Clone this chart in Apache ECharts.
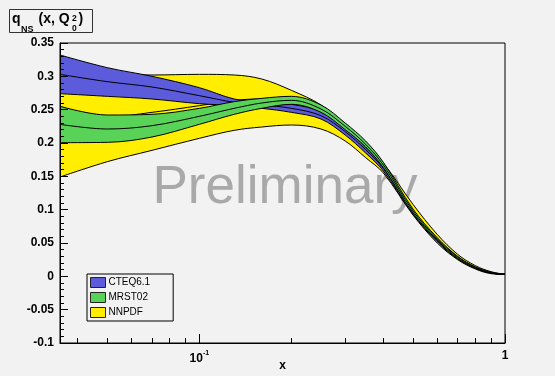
<!DOCTYPE html>
<html><head><meta charset="utf-8">
<script src="https://cdn.jsdelivr.net/npm/echarts@6/dist/echarts.min.js"></script>
<style>html,body{margin:0;padding:0;background:#f2f2f2}#c{width:555px;height:376px}</style>
</head><body><div id="c"></div>
<script>
// ---- data ----
const xValues      = [0.035, 0.05, 0.07, 0.1, 0.13, 0.16, 0.2, 0.25, 0.3, 0.35, 0.4, 0.5, 0.6, 0.7, 0.8, 0.9, 1.0];

const cteqUpper    = [0.332, 0.313, 0.300, 0.283, 0.266, 0.261, 0.258, 0.247, 0.222, 0.194, 0.166, 0.099, 0.057, 0.029, 0.014, 0.006, 0.003];
const cteqCentral  = [0.303, 0.292, 0.284, 0.271, 0.261, 0.257, 0.252, 0.241, 0.217, 0.190, 0.162, 0.096, 0.055, 0.028, 0.013, 0.005, 0.003];
const cteqLower    = [0.274, 0.270, 0.266, 0.259, 0.256, 0.252, 0.246, 0.236, 0.212, 0.185, 0.158, 0.093, 0.052, 0.026, 0.012, 0.005, 0.003];

const mrstUpper    = [0.255, 0.242, 0.243, 0.252, 0.262, 0.267, 0.270, 0.257, 0.230, 0.203, 0.171, 0.101, 0.058, 0.030, 0.014, 0.006, 0.003];
const mrstCentral  = [0.228, 0.221, 0.226, 0.240, 0.252, 0.260, 0.264, 0.251, 0.225, 0.198, 0.167, 0.098, 0.056, 0.029, 0.013, 0.005, 0.003];
const mrstLower    = [0.2005, 0.201, 0.209, 0.228, 0.243, 0.252, 0.258, 0.246, 0.220, 0.194, 0.163, 0.095, 0.054, 0.027, 0.012, 0.005, 0.003];

const nnpdfUpper   = [0.315, 0.305, 0.302, 0.303, 0.302, 0.296, 0.279, 0.257, 0.226, 0.197, 0.170, 0.108, 0.063, 0.033, 0.016, 0.007, 0.003];
const nnpdfCentral = [0.255, 0.239, 0.246, 0.256, 0.264, 0.266, 0.265, 0.250, 0.222, 0.193, 0.164, 0.097, 0.055, 0.028, 0.013, 0.005, 0.003];
const nnpdfLower   = [0.149, 0.172, 0.189, 0.207, 0.219, 0.224, 0.227, 0.221, 0.203, 0.178, 0.155, 0.092, 0.050, 0.025, 0.011, 0.004, 0.003];

const setNames     = ['CTEQ6.1', 'MRST02', 'NNPDF'];
const xMajorTicks  = [0.1, 1];
const xMinorTicks  = [0.04, 0.05, 0.06, 0.07, 0.08, 0.09, 0.2, 0.3, 0.4, 0.5, 0.6, 0.7, 0.8, 0.9];
const yMin = -0.1, yMax = 0.35, yStep = 0.05;
const xMin = 0.035, xMax = 1;

// ---- styling ----
const FONT = '"Liberation Sans", Arial, sans-serif';
const BG = '#f2f2f2';
const colors = { 'CTEQ6.1': '#5b5bdc', 'MRST02': '#58d358', 'NNPDF': '#ffee00' };
const layer = { 'NNPDF': 2, 'CTEQ6.1': 3, 'MRST02': 4 };

function pairs(vals) { return xValues.map((x, i) => [vals[i], x]); } // [y, x]
function diffPairs(up, lo) { return xValues.map((x, i) => [up[i] - lo[i], x]); }

const SMOOTH = 0.35;
function bandSeries(name, up, ce, lo) {
  const common = { type: 'line', symbol: 'none', smooth: SMOOTH, encode: { x: 1, y: 0 }, silent: true, animation: false, z: layer[name] };
  return [
    Object.assign({}, common, { name: name + '_base', stack: name, data: pairs(lo), lineStyle: { opacity: 0, width: 0 } }),
    Object.assign({}, common, { name: name, stack: name, data: diffPairs(up, lo), lineStyle: { opacity: 0, width: 0 },
      color: colors[name], areaStyle: { color: colors[name], opacity: 1 } }),
    Object.assign({}, common, { name: name + '_up', data: pairs(up), lineStyle: { color: '#000', width: 1 } }),
    Object.assign({}, common, { name: name + '_lo', data: pairs(lo), lineStyle: { color: '#000', width: 1 } }),
    Object.assign({}, common, { name: name + '_c', data: pairs(ce), lineStyle: { color: '#000', width: 1 } })
  ];
}

const series = [].concat(
  bandSeries('NNPDF', nnpdfUpper, nnpdfCentral, nnpdfLower),
  bandSeries('CTEQ6.1', cteqUpper, cteqCentral, cteqLower),
  bandSeries('MRST02', mrstUpper, mrstCentral, mrstLower)
);

function midY(baseline, size) { return baseline - 0.3465 * size; }
const TDY = 2; // title vertical nudge

const chart = echarts.init(document.getElementById('c'), null, { renderer: 'canvas' });
chart.setOption({
  animation: false,
  backgroundColor: BG,
  grid: { left: 60, top: 43, right: 50, bottom: 33, containLabel: false, outerBoundsMode: 'none',
          show: true, borderColor: '#000', borderWidth: 1, backgroundColor: 'transparent', z: 6 },
  legend: {
    left: 87, top: 274, orient: 'vertical', z: 20,
    itemWidth: 15, itemHeight: 10, itemGap: 4,
    padding: [3, 23, 3, 3],
    borderColor: '#000', borderWidth: 1, borderRadius: 0,
    backgroundColor: BG,
    selectedMode: false,
    textStyle: { fontFamily: FONT, fontSize: 10, color: '#000', padding: [0, 0, 0, -2] },
    data: setNames.map(n => ({ name: n, icon: 'rect', itemStyle: { color: colors[n], borderColor: '#222', borderWidth: 1 } }))
  },
  xAxis: [
    {
      type: 'log', logBase: 10, min: xMin, max: xMax, position: 'bottom', z: 8,
      name: 'x', nameLocation: 'middle', nameGap: 17, nameMoveOverlap: false,
      nameTextStyle: { fontFamily: FONT, fontSize: 12, fontWeight: 'bold', color: '#000' },
      axisLine: { onZero: false, lineStyle: { color: '#000', width: 1 } },
      axisTick: { inside: true, length: 9, customValues: xMajorTicks, lineStyle: { color: '#000' } },
      axisLabel: {
        customValues: xMajorTicks, margin: 7, color: '#000',
        formatter: v => (Math.abs(v - 1) < 1e-9 ? '{b|1}' : '{b|10}{s|-1}'),
        rich: {
          b: { fontFamily: FONT, fontSize: 12, fontWeight: 'bold', color: '#000' },
          s: { fontFamily: FONT, fontSize: 7, fontWeight: 'bold', color: '#000', padding: [0, 0, 10, 0] }
        }
      },
      splitLine: { show: false }
    },
    {
      type: 'log', logBase: 10, min: xMin, max: xMax, position: 'bottom', z: 8,
      axisLine: { show: false, onZero: false },
      axisTick: { inside: true, length: 5, customValues: xMinorTicks, lineStyle: { color: '#000' } },
      axisLabel: { show: false },
      splitLine: { show: false }
    }
  ],
  yAxis: {
    type: 'value', min: yMin, max: yMax, interval: yStep, z: 8,
    axisLine: { show: true, onZero: false, lineStyle: { color: '#000', width: 1 } },
    axisTick: { inside: true, length: 8, lineStyle: { color: '#000' } },
    minorTick: { show: true, splitNumber: 5, length: 4, lineStyle: { color: '#000' } },
    axisLabel: { margin: 6, fontFamily: FONT, fontSize: 12, fontWeight: 'bold', color: '#000' },
    splitLine: { show: false }
  },
  graphic: [
    { type: 'text', z: 1, x: 152.5, y: midY(207, 53),
      style: { text: 'Preliminary', font: '53px ' + FONT, fill: '#a9a9a9', verticalAlign: 'middle' } },
    { type: 'rect', z: 10, shape: { x: 9.5, y: 9.5, width: 83, height: 23 },
      style: { fill: BG, stroke: '#333', lineWidth: 1 } },
    { type: 'text', z: 11, x: 12, y: midY(22, 14) + TDY, style: { text: 'q', font: 'bold 14px ' + FONT, fill: '#000', verticalAlign: 'middle' } },
    { type: 'text', z: 11, x: 21, y: midY(30.5, 9) + TDY, style: { text: 'NS', font: 'bold 9px ' + FONT, fill: '#000', verticalAlign: 'middle' } },
    { type: 'text', z: 11, x: 38.5, y: midY(22, 14) + TDY, style: { text: '(x, Q', font: 'bold 14px ' + FONT, fill: '#000', verticalAlign: 'middle' } },
    { type: 'text', z: 11, x: 72, y: midY(19.3, 8.5) + TDY, style: { text: '2', font: 'bold 8.5px ' + FONT, fill: '#000', verticalAlign: 'middle' } },
    { type: 'text', z: 11, x: 72, y: midY(29.3, 8.5) + TDY, style: { text: '0', font: 'bold 8.5px ' + FONT, fill: '#000', verticalAlign: 'middle' } },
    { type: 'text', z: 11, x: 78.5, y: midY(22, 14) + TDY, style: { text: ')', font: 'bold 14px ' + FONT, fill: '#000', verticalAlign: 'middle' } }
  ],
  series: series
});
</script></body></html>
